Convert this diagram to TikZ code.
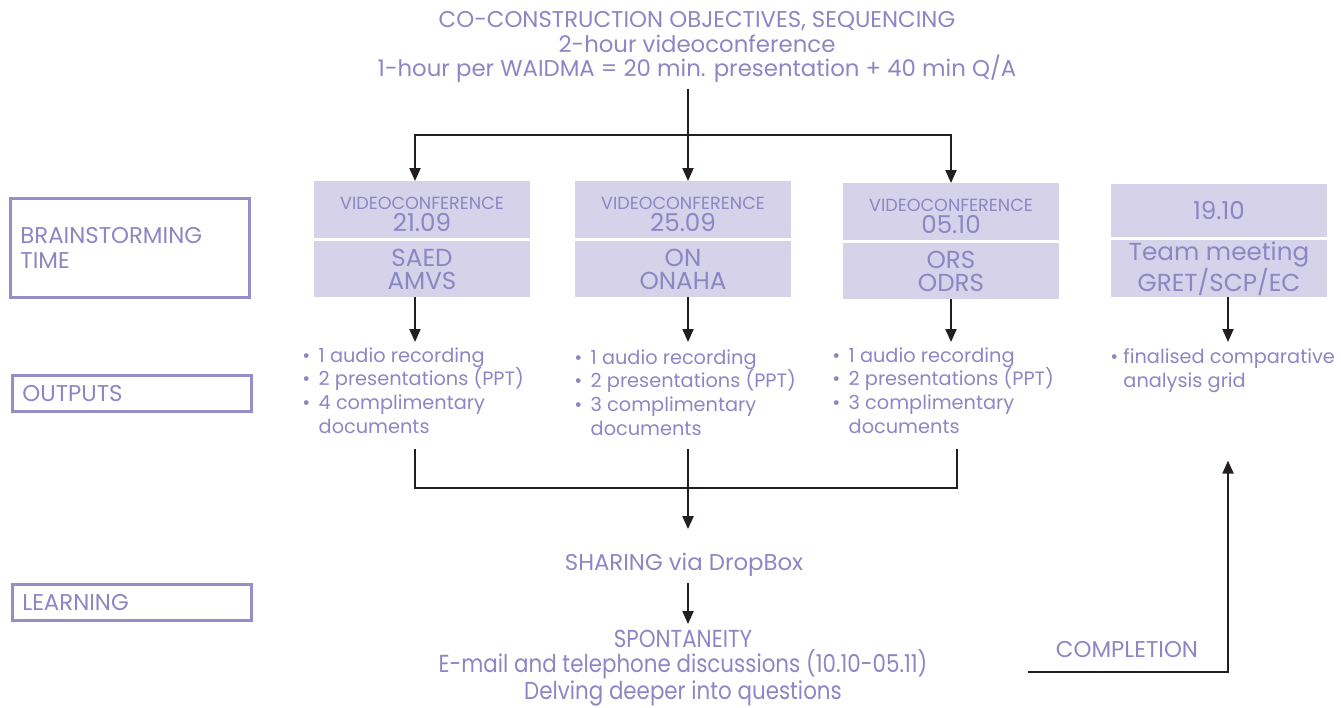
\documentclass[tikz,border=0pt]{standalone}
\usepackage{fontspec}
\setmainfont{Poppins}
\newfontfamily\narrowfont{Poppins}[FakeStretch=0.87]
\usetikzlibrary{positioning,arrows.meta,calc}
\definecolor{lav}{HTML}{8C86C5}
\definecolor{lavfill}{HTML}{D5D2E9}
\definecolor{lavline}{HTML}{958ECB}
\definecolor{ink}{HTML}{231F20}

\newcommand{\vctitle}{{\fontsize{10}{10}\selectfont\rule{0pt}{0.42cm}VIDEOCONFERENCE}}

\begin{document}
\begin{tikzpicture}[
    x=0.02cm, y=-0.02cm,
    every node/.style={text=lav, font=\fontsize{13}{14}\selectfont},
    datebox/.style={rectangle, fill=lavfill, minimum width=4.32cm, minimum height=1.14cm, align=center, inner sep=0pt, font=\fontsize{14}{12.8}\selectfont},
    namebox/.style={rectangle, fill=lavfill, minimum width=4.32cm, minimum height=1.12cm, align=center, inner sep=0pt, font=\fontsize{14}{13}\selectfont},
    phasebox/.style={rectangle, draw=lavline, line width=1.6pt, anchor=north west, align=left, inner xsep=0.2cm, text width=4.38cm, minimum height=0.72cm},
    outlist/.style={anchor=north west, align=left, inner sep=0pt, font=\fontsize{11}{13.6}\selectfont},
    arrow/.style={->, >={Triangle[length=2.6mm, width=2.2mm]}, line width=1.1pt, draw=ink},
    line/.style={line width=1.1pt, draw=ink}
]
    \useasboundingbox (0,0) rectangle (1341,707);

    % Objectives
    \node[align=center] (objectives) at (697,47) {CO-CONSTRUCTION OBJECTIVES, SEQUENCING\\ 2-hour videoconference\\ 1-hour per WAIDMA = 20 min. presentation + 40 min Q/A};

    % Phases
    \node[phasebox, minimum height=1.98cm] (brainstorm) at (9,197) {BRAINSTORMING\\ TIME};
    \node[phasebox] (outputs) at (11,374) {OUTPUTS};
    \node[phasebox] (learning) at (11,583) {LEARNING};

    % Videoconferences
    \node[datebox, anchor=north] (date1) at (422,181) {\vctitle\\ 21.09};
    \node[namebox, below=0.04cm of date1] (name1) {SAED\\ AMVS};
    \node[datebox, anchor=north] (date2) at (683,181) {\vctitle\\ 25.09};
    \node[namebox, below=0.04cm of date2] (name2) {ON\\ ONAHA};
    \node[datebox, anchor=north] (date3) at (951,183) {\vctitle\\ 05.10};
    \node[namebox, below=0.04cm of date3] (name3) {ORS\\ ODRS};

    % Team meeting
    \node[datebox, anchor=north, minimum height=1.06cm] (date4) at (1219,184) {19.10};
    \node[namebox, below=0.04cm of date4, minimum height=1.14cm] (name4) {Team meeting\\ GRET/SCP/EC};

    % Outputs
    \node[outlist] (list1) at (302,347) {\textbullet\ \,1 audio recording\\ \textbullet\ \,2 presentations (PPT)\\ \textbullet\ \,4 complimentary\\ \phantom{\textbullet\ \,}documents};
    \node[outlist] (list2) at (574,349) {\textbullet\ \,1 audio recording\\ \textbullet\ \,2 presentations (PPT)\\ \textbullet\ \,3 complimentary\\ \phantom{\textbullet\ \,}documents};
    \node[outlist] (list3) at (832,347) {\textbullet\ \,1 audio recording\\ \textbullet\ \,2 presentations (PPT)\\ \textbullet\ \,3 complimentary\\ \phantom{\textbullet\ \,}documents};
    \node[outlist] (grid) at (1110,348) {\textbullet\ finalised comparative\\ \phantom{\textbullet\ }analysis grid};

    % Learning
    \node (sharing) at (684,565) {SHARING via DropBox};
    \node[align=center, font=\narrowfont\fontsize{14}{14}\selectfont] (spontaneity) at (683,668) {SPONTANEITY\\ E-mail and telephone discussions (10.10-05.11)\\ Delving deeper into questions};
    \node (completion) at (1127,650) {COMPLETION};

    % Arrows
    \coordinate (fork) at (688,135);
    \draw[line] (objectives.south -| fork) -- (fork);
    \draw[arrow] (fork) -| ([xshift=-0.14cm]date1.north);
    \draw[arrow] (fork) -- (fork |- date2.north);
    \draw[arrow] (fork) -| (date3.north);

    \draw[arrow, shorten >=0.1cm] ([xshift=-0.14cm]name1.south) -- ([xshift=-0.14cm]name1.south |- list1.north);
    \draw[arrow, shorten >=0.1cm] (fork |- name2.south) -- (fork |- list1.north);
    \draw[arrow, shorten >=0.1cm] (name3.south) -- (name3.south |- list1.north);
    \draw[arrow, shorten >=0.1cm] ([xshift=0.18cm]name4.south) -- ([xshift=0.18cm]name4.south |- list1.north);

    \coordinate (gather) at (688,488);
    \draw[line] ($([xshift=-0.14cm]name1.south |- list2.south)+(0,13)$) |- (gather) -| ($([xshift=0.12cm]name3.south |- list2.south)+(0,13)$);
    \draw[line] ($(gather |- list2.south)+(0,13)$) -- (gather);
    \draw[arrow, shorten >=0.36cm] (gather) -- (gather |- sharing.north);
    \draw[arrow] (sharing.south -| gather) -- (spontaneity.north -| gather);

    \coordinate (closing) at (1028,672);
    \draw[arrow, shorten >=1.36cm] (closing) -| ([xshift=0.18cm]name4.south |- grid.south);

\end{tikzpicture}
\end{document}
